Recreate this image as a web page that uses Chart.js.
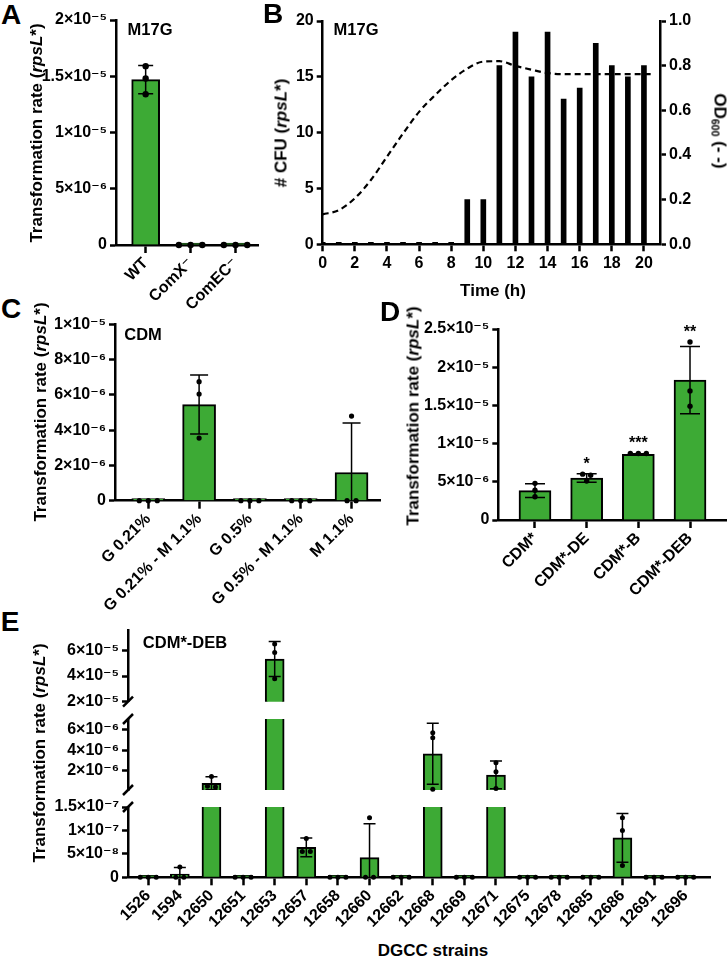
<!DOCTYPE html>
<html><head><meta charset="utf-8">
<script src="https://cdn.jsdelivr.net/npm/chart.js@4.4.1/dist/chart.umd.min.js"></script>
<style>
html,body{margin:0;padding:0;background:#fff;}
#root{position:relative;width:728px;height:959px;overflow:hidden;background:#fff;font-family:"Liberation Sans",Arial,"DejaVu Sans",sans-serif;font-weight:bold;color:#000;}
canvas{position:absolute;}
.t{position:absolute;white-space:nowrap;transform-origin:center center;}
.t sub{font-size:0.62em;vertical-align:-0.25em;line-height:0;}
</style></head><body><div id="root"></div>
<script>
// ---------- DATA ----------
// Panel A
const A_labels = ['WT', 'ComX⁻', 'ComEC⁻'];
const A_means = [1.47e-5, 0, 0];
const A_sd = [1.25e-6, 0, 0];
const A_reps = [[1.59e-5, 1.48e-5, 1.34e-5], [0, 0, 0], [0, 0, 0]];
const A_yTicks = [0, 5e-6, 1e-5, 1.5e-5, 2e-5];
const A_yTickLabels = ['0', '5×10⁻⁶', '1×10⁻⁵', '1.5×10⁻⁵', '2×10⁻⁵'];

// Panel B
const B_hours = [0,1,2,3,4,5,6,7,8,9,10,11,12,13,14,15,16,17,18,19,20];
const B_cfu = [0,0,0,0,0,0,0,0,0,4,4,16,19,15,19,13,14,18,16,15,16];
const B_odTime = [0,1,2,3,4,5,6,7,8,9,10,11,12,13,14,15,16,17,18,19,20,20.6];
const B_od = [0.134,0.153,0.206,0.288,0.392,0.496,0.593,0.668,0.735,0.787,0.818,0.82,0.799,0.782,0.767,0.762,0.762,0.762,0.762,0.762,0.762,0.762];
const B_xTicks = [0,2,4,6,8,10,12,14,16,18,20];
const B_xTickLabels = ['0','2','4','6','8','10','12','14','16','18','20'];
const B_yTicks = [0,5,10,15,20];
const B_yTickLabels = ['0','5','10','15','20'];
const B_y2Ticks = [0,0.2,0.4,0.6,0.8,1.0];
const B_y2TickLabels = ['0.0','0.2','0.4','0.6','0.8','1.0'];

// Panel C
const C_labels = ['G 0.21%', 'G 0.21% - M 1.1%', 'G 0.5%', 'G 0.5% - M 1.1%', 'M 1.1%'];
const C_means = [0, 5.45e-6, 0, 0, 1.6e-6];
const C_sd = [0, 1.67e-6, 0, 0, 2.8e-6];
const C_reps = [[0,0,0],[6.75e-6,6.05e-6,3.55e-6],[0,0,0],[0,0,0],[4.8e-6,0,0]];
const C_yTicks = [0, 2e-6, 4e-6, 6e-6, 8e-6, 1e-5];
const C_yTickLabels = ['0','2×10⁻⁶','4×10⁻⁶','6×10⁻⁶','8×10⁻⁶','1×10⁻⁵'];

// Panel D
const D_labels = ['CDM*', 'CDM*-DE', 'CDM*-B', 'CDM*-DEB'];
const D_means = [3.85e-6, 5.5e-6, 8.6e-6, 1.83e-5];
const D_sd = [0.9e-6, 0.55e-6, 0.08e-6, 4.4e-6];
const D_reps = [[4.8e-6,3.9e-6,3.05e-6],[6.0e-6,5.85e-6,5.1e-6],[8.7e-6,8.7e-6,8.72e-6],[2.33e-5,1.69e-5,1.49e-5]];
const D_sig = ['', '*', '***', '**'];
const D_yTicks = [0, 5e-6, 1e-5, 1.5e-5, 2e-5, 2.5e-5];
const D_yTickLabels = ['0','5×10⁻⁶','1×10⁻⁵','1.5×10⁻⁵','2×10⁻⁵','2.5×10⁻⁵'];

// Panel E
const E_labels = ['1526','1594','12650','12651','12653','12657','12658','12660','12662','12668','12669','12671','12675','12678','12685','12686','12691','12696'];
const E_means = [0, 7e-9, 8e-7, 0, 5.33e-5, 6.4e-8, 0, 4.2e-8, 0, 3.65e-6, 0, 1.6e-6, 0, 0, 0, 8.4e-8, 0, 0];
const E_sd = [0, 1.4e-8, 6.2e-7, 0, 1.37e-5, 2e-8, 0, 7.2e-8, 0, 2.95e-6, 0, 1.34e-6, 0, 0, 0, 5.2e-8, 0, 0];
const E_reps = [[0,0,0],[2.2e-8,0,0],[1.45e-6,5e-7,4.5e-7],[0,0,0],[6.5e-5,5.85e-5,3.8e-5],[8.3e-8,5.5e-8,5.5e-8],[0,0,0],[1.27e-7,0,0],[0,0,0],[5.67e-6,5.2e-6,2.3e-7],[0,0,0],[2.77e-6,1.9e-6,3e-7],[0,0,0],[0,0,0],[0,0,0],[1.27e-7,1.0e-7,2.5e-8],[0,0,0],[0,0,0]];
const E_topTicks = [2e-5, 4e-5, 6e-5];
const E_topTickLabels = ['2×10⁻⁵','4×10⁻⁵','6×10⁻⁵'];
const E_midTicks = [2e-6, 4e-6, 6e-6];
const E_midTickLabels = ['2×10⁻⁶','4×10⁻⁶','6×10⁻⁶'];
const E_botTicks = [0, 5e-8, 1e-7, 1.5e-7];
const E_botTickLabels = ['0','5×10⁻⁸','1×10⁻⁷','1.5×10⁻⁷'];

// ---------- SETUP ----------
const FONT = '"Liberation Sans", Arial, "DejaVu Sans", sans-serif';
Chart.defaults.font.family = FONT;
Chart.defaults.font.weight = 'bold';
Chart.defaults.font.size = 16;
Chart.defaults.color = '#000';
const GREEN = '#3DAA35';
const root = document.getElementById('root');

function makeCanvas(l, t, w, h) {
  const c = document.createElement('canvas');
  c.width = w; c.height = h;
  c.style.left = l + 'px'; c.style.top = t + 'px';
  c.style.width = w + 'px'; c.style.height = h + 'px';
  root.appendChild(c);
  return c;
}
function addText(html, cx, cy, size, rot) {
  const d = document.createElement('div');
  d.className = 't';
  d.innerHTML = html;
  d.style.fontSize = size + 'px';
  d.style.lineHeight = size + 'px';
  d.style.left = cx + 'px'; d.style.top = cy + 'px';
  d.style.transform = 'translate(-50%,-50%) rotate(' + (rot || 0) + 'deg)';
  root.appendChild(d);
}
const gridOpt = (len) => ({ display: true, drawOnChartArea: false, drawTicks: true, tickLength: len, tickWidth: 2.5, tickColor: '#000', offset: false });
const borderOpt = { display: true, color: '#000', width: 2.5 };

function yAxis(ticks, labels, min, max, width, position) {
  return {
    type: 'linear', position: position || 'left', min: min, max: max,
    afterBuildTicks: s => { s.ticks = ticks.map(v => ({ value: v })); },
    afterFit: s => { s.width = width; },
    ticks: { callback: (v, i) => labels[i], padding: 3, autoSkip: false },
    grid: gridOpt(6), border: borderOpt
  };
}
function catAxis(labels, min, max, height, display) {
  return {
    type: 'linear', min: min, max: max, offset: false, display: display !== false,
    afterBuildTicks: s => { s.ticks = labels.map((_, i) => ({ value: i })); },
    afterFit: s => { s.height = height; },
    ticks: { callback: (v, i) => labels[i], minRotation: 45, maxRotation: 45, autoSkip: false, padding: 1 },
    grid: gridOpt(8), border: borderOpt
  };
}

function overlay(o) {
  return {
    id: 'overlay',
    afterDatasetsDraw(chart) {
      const ctx = chart.ctx, a = chart.chartArea, xs = chart.scales.x, ys = chart.scales.y;
      const inRange = v => v >= ys.min && v <= ys.max;
      if (o.means) {
        ctx.save();
        ctx.beginPath(); ctx.rect(a.left, a.top, a.right - a.left, a.bottom - a.top); ctx.clip();
        ctx.strokeStyle = '#000'; ctx.lineWidth = o.lw;
        o.means.forEach((m, i) => {
          const s = o.sd[i]; if (!s) return;
          const hi = m + s, lo = m - s;
          if (hi < ys.min || lo > ys.max) return;
          const x = xs.getPixelForValue(i);
          const y1 = ys.getPixelForValue(Math.min(hi, ys.max)), y0 = ys.getPixelForValue(Math.max(lo, ys.min));
          ctx.beginPath();
          ctx.moveTo(x, y0); ctx.lineTo(x, y1);
          if (inRange(hi)) { ctx.moveTo(x - o.cap / 2, y1); ctx.lineTo(x + o.cap / 2, y1); }
          if (inRange(lo)) { ctx.moveTo(x - o.cap / 2, y0); ctx.lineTo(x + o.cap / 2, y0); }
          ctx.stroke();
        });
        ctx.restore();
      }
      if (o.reps) {
        ctx.save();
        ctx.fillStyle = '#000';
        o.reps.forEach((vals, i) => {
          const xc = xs.getPixelForValue(i);
          const py = vals.filter(inRange).map(v => ys.getPixelForValue(v)).sort((p, q) => p - q);
          const clusters = [];
          py.forEach(y => {
            const c = clusters[clusters.length - 1];
            if (c && y - c[0] < 2 * o.r - 0.5) c.push(y); else clusters.push([y]);
          });
          clusters.forEach(c => c.forEach((y, k) => {
            const dx = (k - (c.length - 1) / 2) * o.spread;
            ctx.beginPath(); ctx.arc(xc + dx, y, o.r, 0, Math.PI * 2); ctx.fill();
          }));
        });
        ctx.restore();
      }
      if (o.sig) {
        ctx.save();
        ctx.fillStyle = '#000'; ctx.font = 'bold 16px ' + FONT; ctx.textAlign = 'center'; ctx.textBaseline = 'alphabetic';
        o.sig.forEach((t, i) => {
          if (!t) return;
          const top = Math.max(o.means[i] + o.sd[i], ...o.reps[i]);
          ctx.fillText(t, xs.getPixelForValue(i), ys.getPixelForValue(top) - 5);
        });
        ctx.restore();
      }
      if (o.breaks) {
        ctx.save();
        ctx.strokeStyle = '#000'; ctx.lineWidth = 2.5;
        o.breaks.forEach(pos => {
          const y = pos === 'top' ? a.top : a.bottom;
          ctx.beginPath(); ctx.moveTo(a.left - 5, y + 5); ctx.lineTo(a.left + 5, y - 5); ctx.stroke();
        });
        ctx.restore();
      }
    }
  };
}

function baseOptions(pad, scales) {
  return {
    responsive: false, animation: false, devicePixelRatio: 1,
    layout: { padding: pad },
    plugins: { legend: { display: false }, tooltip: { enabled: false } },
    scales: scales
  };
}
function barDataset(means, thickness, minLen) {
  return {
    data: means.map((v, i) => ({ x: i, y: v })),
    backgroundColor: GREEN, borderColor: '#000', borderWidth: 2,
    barThickness: thickness, minBarLength: minLen, clip: 0
  };
}

// ---------- PANEL A ----------
new Chart(makeCanvas(36, 6, 229, 314), {
  type: 'bar',
  data: { datasets: [barDataset(A_means, 28, 2)] },
  options: baseOptions({ top: 14, right: 7, bottom: 0, left: 0 }, {
    x: catAxis(A_labels, -0.66, 2.5, 75),
    y: yAxis(A_yTicks, A_yTickLabels, 0, 2e-5, 80)
  }),
  plugins: [overlay({ means: A_means, sd: A_sd, reps: A_reps, lw: 1.5, cap: 15, r: 3.2, spread: 11.7 })]
});

// ---------- PANEL B ----------
new Chart(makeCanvas(267, 7, 461, 288), {
  type: 'bar',
  data: { datasets: [
    { type: 'line', yAxisID: 'y2', data: B_odTime.map((t, i) => ({ x: t, y: B_od[i] })),
      borderColor: '#000', borderWidth: 2.2, borderDash: [6, 4], pointRadius: 0,
      cubicInterpolationMode: 'monotone', fill: false },
    { type: 'bar', yAxisID: 'y', data: B_hours.map((h, i) => ({ x: h, y: B_cfu[i] })),
      backgroundColor: '#000', borderWidth: 0, barThickness: 5, minBarLength: 2 }
  ] },
  options: baseOptions({ top: 14, right: 0, bottom: 0, left: 0 }, {
    x: {
      type: 'linear', min: 0, max: 21, offset: false,
      afterBuildTicks: s => { s.ticks = B_xTicks.map(v => ({ value: v })); },
      afterFit: s => { s.height = 50.7; },
      ticks: { callback: (v, i) => B_xTickLabels[i], minRotation: 0, maxRotation: 0, autoSkip: false, padding: 3 },
      grid: gridOpt(7), border: borderOpt
    },
    y: yAxis(B_yTicks, B_yTickLabels, 0, 20, 55.7, 'left'),
    y2: yAxis(B_y2Ticks, B_y2TickLabels, 0, 1, 68, 'right')
  })
});

// ---------- PANEL C ----------
new Chart(makeCanvas(50, 310, 335, 315), {
  type: 'bar',
  data: { datasets: [barDataset(C_means, 33, 2)] },
  options: baseOptions({ top: 14.3, right: 5, bottom: 0, left: 0 }, {
    x: catAxis(C_labels, -0.655, 4.56, 124.3),
    y: yAxis(C_yTicks, C_yTickLabels, 0, 1e-5, 65)
  }),
  plugins: [overlay({ means: C_means, sd: C_sd, reps: C_reps, lw: 1.5, cap: 18, r: 2.6, spread: 9 })]
});

// ---------- PANEL D ----------
new Chart(makeCanvas(418, 315, 310, 295), {
  type: 'bar',
  data: { datasets: [barDataset(D_means, 32, 2)] },
  options: baseOptions({ top: 14, right: 1.3, bottom: 0, left: 0 }, {
    x: catAxis(D_labels, -0.71, 3.71, 90),
    y: yAxis(D_yTicks, D_yTickLabels, 0, 2.5e-5, 80.3)
  }),
  plugins: [overlay({ means: D_means, sd: D_sd, reps: D_reps, sig: D_sig, lw: 1.5, cap: 20, r: 2.7, spread: 8 })]
});

// ---------- PANEL E (broken axis: three segments) ----------
const E_xMin = -0.64, E_xMax = 17.77;
new Chart(makeCanvas(48, 616, 672, 100), {
  type: 'bar',
  data: { datasets: [barDataset(E_means, 19, 0)] },
  options: baseOptions({ top: 14, right: 10, bottom: 14.3, left: 0 }, {
    x: catAxis(E_labels, E_xMin, E_xMax, 0, false),
    y: yAxis(E_topTicks, E_topTickLabels, 2e-5, 7.6e-5, 80)
  }),
  plugins: [overlay({ means: E_means, sd: E_sd, reps: E_reps, lw: 1.5, cap: 12, r: 2.5, spread: 8, breaks: ['bottom'] })]
});
new Chart(makeCanvas(48, 705, 672, 99), {
  type: 'bar',
  data: { datasets: [barDataset(E_means, 19, 0)] },
  options: baseOptions({ top: 14, right: 10, bottom: 14, left: 0 }, {
    x: catAxis(E_labels, E_xMin, E_xMax, 0, false),
    y: yAxis(E_midTicks, E_midTickLabels, 1.5e-7, 7e-6, 80)
  }),
  plugins: [overlay({ means: E_means, sd: E_sd, reps: E_reps, lw: 1.5, cap: 12, r: 2.5, spread: 8, breaks: ['top', 'bottom'] })]
});
new Chart(makeCanvas(48, 793, 672, 147), {
  type: 'bar',
  data: { datasets: [barDataset(E_means, 19, 2)] },
  options: baseOptions({ top: 14, right: 10, bottom: 0, left: 0 }, {
    x: catAxis(E_labels, E_xMin, E_xMax, 62.7),
    y: yAxis(E_botTicks, E_botTickLabels, 0, 1.5e-7, 80)
  }),
  plugins: [overlay({ means: E_means, sd: E_sd, reps: E_reps, lw: 1.5, cap: 12, r: 2.5, spread: 8, breaks: ['top'] })]
});

// ---------- TEXT ----------
const TR = 'Transformation rate (<i>rpsL</i>*)';
addText('A', 11, 15, 28);
addText('B', 273, 14, 28);
addText('C', 11, 309, 28);
addText('D', 390, 312, 28);
addText('E', 10, 622, 28);
addText('M17G', 150, 29, 16.5);
addText('M17G', 356, 29, 16.5);
addText('CDM', 143, 334, 16.5);
addText('CDM*-DEB', 185, 642, 16.5);
addText(TR, 35.6, 132.5, 17, -90);
addText('# CFU (<i>rpsL</i>*)', 281, 132.5, 17, -90);
addText('OD<sub>600</sub> (- -)', 720, 131, 17, 90);
addText('Time (h)', 493, 290, 17);
addText(TR, 39.5, 411.7, 17, -90);
addText(TR, 412.5, 415.7, 17, -90);
addText(TR, 39, 753, 17, -90);
addText('DGCC strains', 433, 950, 17);
</script>
</body></html>
